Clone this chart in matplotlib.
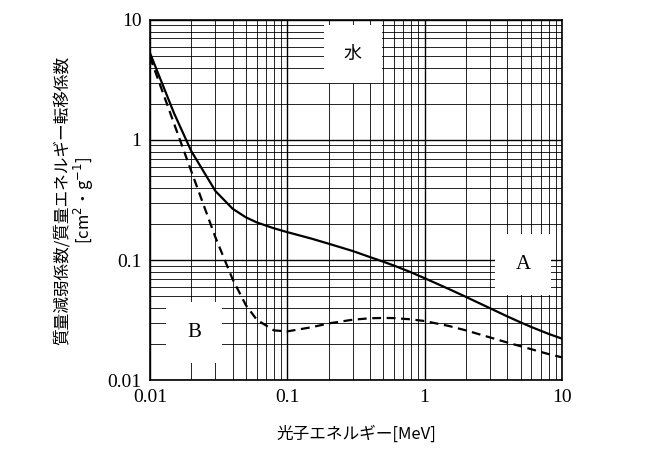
import matplotlib
matplotlib.use("Agg")
import matplotlib.pyplot as plt
from matplotlib.ticker import NullFormatter

energy = [0.01,0.015,0.02,0.03,0.04,0.05,0.06,0.08,0.1,0.15,0.2,0.3,0.4,0.5,0.6,0.8,1,1.5,2,3,4,5,6,8,10]
mu_A = [5.33,1.67,0.81,0.376,0.268,0.227,0.206,0.184,0.171,0.151,0.137,0.119,0.106,0.097,0.090,0.079,0.0707,0.0575,0.0494,0.0397,0.034,0.0303,0.0277,0.0243,0.0222]
mu_B = [4.94,1.37,0.552,0.155,0.0695,0.0422,0.0319,0.026,0.0255,0.0276,0.0297,0.0319,0.0328,0.033,0.0329,0.0321,0.0311,0.0283,0.026,0.0227,0.0206,0.0192,0.0181,0.0165,0.0155]
xticks = [0.01,0.1,1,10]
xticklabels = ["0.01","0.1","1","10"]
yticks = [0.01,0.1,1,10]
yticklabels = ["0.01","0.1","1","10"]

cjk = ['Noto Sans CJK JP','DejaVu Sans']
serif = 'Liberation Serif'

fig = plt.figure(figsize=(6.69,4.62), dpi=100)
ax = fig.add_axes([0.224,0.177,0.616,0.780])
ax.set_xscale('log'); ax.set_yscale('log')
ax.set_xlim(0.01,10); ax.set_ylim(0.01,10)
ax.plot(energy, mu_A, color='black', lw=1.6, zorder=3)
ax.plot(energy, mu_B, color='black', lw=1.6, ls=(0,(4,2.5)), zorder=3)
ax.grid(which='both', color='black', lw=0.6)
ax.grid(which='major', color='black', lw=1.0)
ax.set_xticks(xticks); ax.set_xticklabels(xticklabels, fontfamily=serif, fontsize=14)
ax.set_yticks(yticks); ax.set_yticklabels(yticklabels, fontfamily=serif, fontsize=14)
ax.xaxis.set_minor_formatter(NullFormatter()); ax.yaxis.set_minor_formatter(NullFormatter())
ax.tick_params(which='both', length=0, pad=6)
for s in ax.spines.values():
    s.set_linewidth(1.2)
ax.text(0.3, 5.2, "水", family=cjk, fontsize=13, ha='center', va='center', bbox=dict(facecolor='white', edgecolor='none', boxstyle='square,pad=1.1'), zorder=4)
ax.text(5.2, 0.092, "A", family=serif, fontsize=15, ha='center', va='center', bbox=dict(facecolor='white', edgecolor='none', boxstyle='square,pad=1.0'), zorder=4)
ax.text(0.021, 0.025, "B", family=serif, fontsize=15, ha='center', va='center', bbox=dict(facecolor='white', edgecolor='none', boxstyle='square,pad=1.0'), zorder=4)
ax.set_xlabel("光子エネルギー[MeV]", family=cjk, fontsize=12, labelpad=14)
ax.set_ylabel("質量減弱係数/質量エネルギー転移係数\n[cm$^2$・g$^{-1}$]", family=cjk, fontsize=12, labelpad=8, linespacing=1.1)
fig.savefig("out.png", dpi=100)
